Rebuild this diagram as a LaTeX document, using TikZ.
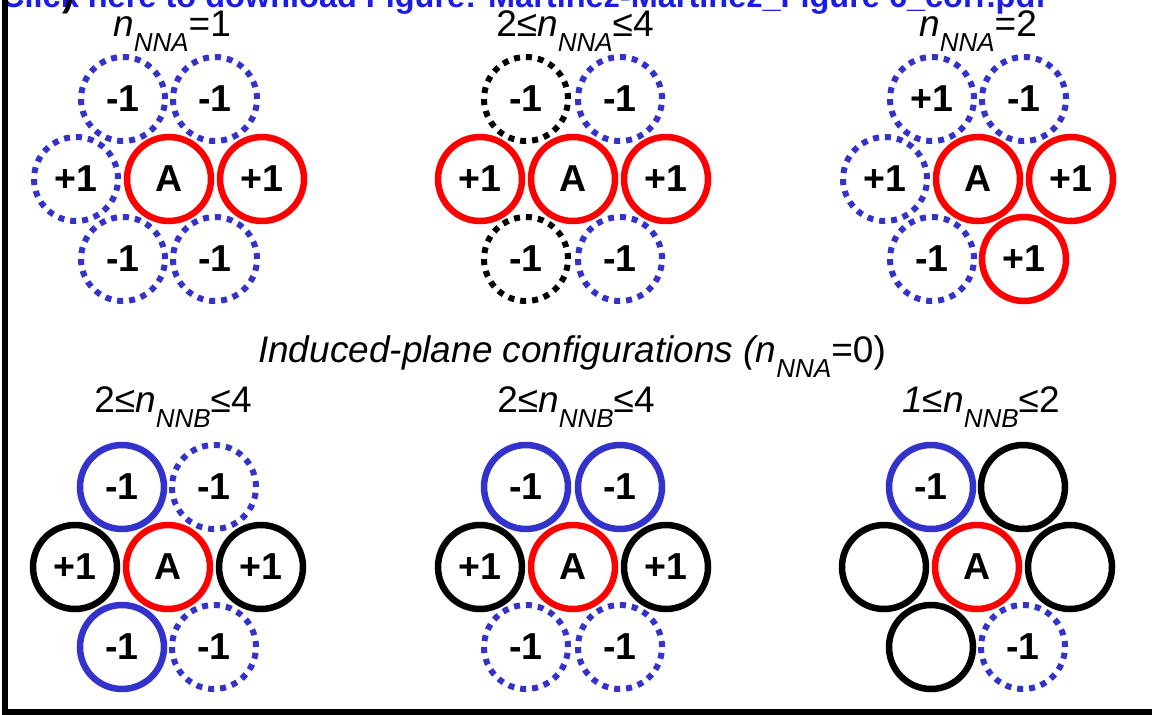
\documentclass[tikz,border=0pt]{standalone}
\usepackage{fontspec}
\setmainfont{Liberation Sans}
\usetikzlibrary{calc}

\definecolor{siteblue}{RGB}{51,51,204}
\definecolor{sitered}{RGB}{255,0,0}
\definecolor{linkblue}{RGB}{28,28,232}

% lowered italic subscript used in the count labels
\newcommand{\lsub}[1]{\raisebox{-0.42em}{\fontsize{26}{28}\selectfont\itshape #1}}

\begin{document}
\begin{tikzpicture}[x=1pt,y=-1pt,
  site/.style={circle, minimum size=84pt, inner sep=0pt, line width=6.5pt,
    font=\fontsize{37.5}{40}\selectfont\bfseries},
  redsite/.style={site, draw=sitered},
  bluesite/.style={site, draw=siteblue},
  blacksite/.style={site, draw=black},
  dotblue/.style={site, draw=siteblue, line width=6pt, dash pattern=on 6pt off 6pt},
  dotblack/.style={site, draw=black, line width=6pt, dash pattern=on 6pt off 6pt},
  caption/.style={anchor=base, inner sep=0pt, font=\fontsize{37}{40}\selectfont},
]
\useasboundingbox (0,0) rectangle (1152,715);
\clip (0,0) rectangle (1152,715);

% centres of the six hexagonal clusters
\coordinate (c1) at (169,179);
\coordinate (c2) at (573,179);
\coordinate (c3) at (978,179);
\coordinate (c4) at (168,567);
\coordinate (c5) at (573,567);
\coordinate (c6) at (977,567);

% header line and panel mark
\node[anchor=base west, inner sep=0pt, text=linkblue,
  font=\fontsize{32.5}{34}\selectfont\bfseries] (hdr) at (1,7)
  {Click here to download Figure: Martinez-Martinez\_Figure 6\_corr.pdf};
\node[anchor=base west, inner sep=0pt, font=\fontsize{36}{38}\selectfont\bfseries]
  (pmark) at (62,6) {)};

% frame
\draw[line width=6pt] (5,-5) -- (5,712) -- (1160,712);

% captions
\node[caption] (cap1) at (172,36) {\textit{n}\lsub{NNA}=1};
\node[caption] (cap2) at (575,36) {2≤\textit{n}\lsub{NNA}≤4};
\node[caption] (cap3) at (978,36) {\textit{n}\lsub{NNA}=2};
\node[caption] (capmid) at (572,362)
  {\textit{Induced-plane configurations (n}\lsub{NNA}=0)};
\node[caption] (cap4) at (173,412) {2≤\textit{n}\lsub{NNB}≤4};
\node[caption] (cap5) at (576,412) {2≤\textit{n}\lsub{NNB}≤4};
\node[caption] (cap6) at (981,412) {\textit{1≤n}\lsub{NNB}≤2};

% cluster 1
\node[dotblue]  (a1nw) at ($(c1)+(-46,-80)$) {-1};
\node[dotblue]  (a1ne) at ($(c1)+(46,-80)$)  {-1};
\node[dotblue]  (a1w)  at ($(c1)+(-93,0)$)   {+1};
\node[redsite]  (a1e)  at ($(c1)+(93,0)$)    {+1};
\node[dotblue]  (a1sw) at ($(c1)+(-46,80)$)  {-1};
\node[dotblue]  (a1se) at ($(c1)+(46,80)$)   {-1};
\node[redsite]  (a1)   at (c1) {A};

% cluster 2
\node[dotblack] (a2nw) at ($(c2)+(-47,-80)$) {-1};
\node[dotblue]  (a2ne) at ($(c2)+(47,-80)$)  {-1};
\node[redsite]  (a2w)  at ($(c2)+(-93,0)$)   {+1};
\node[redsite]  (a2e)  at ($(c2)+(93,0)$)    {+1};
\node[dotblack] (a2sw) at ($(c2)+(-47,80)$)  {-1};
\node[dotblue]  (a2se) at ($(c2)+(47,80)$)   {-1};
\node[redsite]  (a2)   at (c2) {A};

% cluster 3
\node[dotblue]  (a3nw) at ($(c3)+(-46,-80)$) {+1};
\node[dotblue]  (a3ne) at ($(c3)+(46,-80)$)  {-1};
\node[dotblue]  (a3w)  at ($(c3)+(-93,0)$)   {+1};
\node[redsite]  (a3e)  at ($(c3)+(93,0)$)    {+1};
\node[dotblue]  (a3sw) at ($(c3)+(-46,80)$)  {-1};
\node[redsite]  (a3se) at ($(c3)+(46,80)$)   {+1};
\node[redsite]  (a3)   at (c3) {A};

% cluster 4
\node[bluesite]  (a4nw) at ($(c4)+(-46,-80)$) {-1};
\node[dotblue]   (a4ne) at ($(c4)+(46,-80)$)  {-1};
\node[blacksite] (a4w)  at ($(c4)+(-93,0)$)   {+1};
\node[blacksite] (a4e)  at ($(c4)+(93,0)$)    {+1};
\node[bluesite]  (a4sw) at ($(c4)+(-46,80)$)  {-1};
\node[dotblue]   (a4se) at ($(c4)+(46,80)$)   {-1};
\node[redsite]   (a4)   at (c4) {A};

% cluster 5
\node[bluesite]  (a5nw) at ($(c5)+(-47,-80)$) {-1};
\node[bluesite]  (a5ne) at ($(c5)+(47,-80)$)  {-1};
\node[blacksite] (a5w)  at ($(c5)+(-93,0)$)   {+1};
\node[blacksite] (a5e)  at ($(c5)+(93,0)$)    {+1};
\node[dotblue]   (a5sw) at ($(c5)+(-47,80)$)  {-1};
\node[dotblue]   (a5se) at ($(c5)+(47,80)$)   {-1};
\node[redsite]   (a5)   at (c5) {A};

% cluster 6
\node[bluesite]  (a6nw) at ($(c6)+(-46,-80)$) {-1};
\node[blacksite] (a6ne) at ($(c6)+(46,-80)$)  {};
\node[blacksite] (a6w)  at ($(c6)+(-93,0)$)   {};
\node[blacksite] (a6e)  at ($(c6)+(93,0)$)    {};
\node[blacksite] (a6sw) at ($(c6)+(-46,80)$)  {};
\node[dotblue]   (a6se) at ($(c6)+(46,80)$)   {-1};
\node[redsite]   (a6)   at (c6) {A};
\end{tikzpicture}
\end{document}
